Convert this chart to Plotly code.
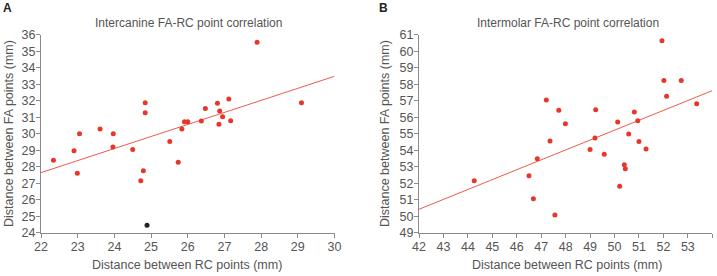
import plotly.graph_objects as go

# Panel A: intercanine
a_x = [22.34, 22.90, 22.99, 23.05, 23.61, 23.96, 23.97, 24.50, 24.72, 24.79, 24.84, 24.84,
       25.51, 25.74, 25.84, 25.91, 26.00, 26.37, 26.48, 26.81, 26.85, 26.87, 26.95, 27.12,
       27.17, 27.89, 29.10]
a_y = [28.39, 28.97, 27.60, 30.00, 30.28, 29.19, 30.00, 29.05, 27.15, 27.76, 31.88, 31.27,
       29.52, 28.27, 30.28, 30.73, 30.73, 30.77, 31.52, 31.84, 30.57, 31.38, 31.03, 32.10,
       30.79, 35.54, 31.88]
a_out_x = [24.89]
a_out_y = [24.45]
a_fit_x = [22, 30]
a_fit_y = [27.64, 33.48]

# Panel B: intermolar
b_x = [44.26, 46.50, 46.68, 46.84, 47.21, 47.36, 47.56, 47.72, 47.99, 49.00, 49.20, 49.23,
       49.58, 50.13, 50.21, 50.40, 50.44, 50.58, 50.81, 50.95, 51.00, 51.29, 51.94, 52.02,
       52.13, 52.73, 53.36]
b_y = [52.15, 52.45, 51.06, 53.48, 57.04, 54.56, 50.07, 56.42, 55.61, 54.05, 54.74, 56.45,
       53.75, 55.71, 51.81, 53.12, 52.88, 54.98, 56.32, 55.79, 54.52, 54.07, 60.64, 58.23,
       57.27, 58.23, 56.82]
b_fit_x = [42, 54]
b_fit_y = [50.42, 57.61]

titles = ["Intercanine FA-RC point correlation", "Intermolar FA-RC point correlation"]
x_title = "Distance between RC points (mm)"
y_title = "Distance between FA points (mm)"
panel_labels = ["A", "B"]

W, H = 717, 276
RED = "#e8362b"
LINE = "#ee5a4c"
AX = "#8a8a8a"
TXT = "#555555"
FONT = "Liberation Sans, Arial, sans-serif"

fig = go.Figure()
fig.add_trace(go.Scatter(x=a_fit_x, y=a_fit_y, mode="lines", line=dict(color=LINE, width=1),
                         xaxis="x", yaxis="y", hoverinfo="skip"))
fig.add_trace(go.Scatter(x=a_x, y=a_y, mode="markers", marker=dict(color=RED, size=5),
                         xaxis="x", yaxis="y"))
fig.add_trace(go.Scatter(x=a_out_x, y=a_out_y, mode="markers", marker=dict(color="#222222", size=5),
                         xaxis="x", yaxis="y"))
fig.add_trace(go.Scatter(x=b_fit_x, y=b_fit_y, mode="lines", line=dict(color=LINE, width=1),
                         xaxis="x2", yaxis="y2", hoverinfo="skip"))
fig.add_trace(go.Scatter(x=b_x, y=b_y, mode="markers", marker=dict(color=RED, size=5),
                         xaxis="x2", yaxis="y2"))

ydom = [43.3 / H, 241.3 / H]
common = dict(showgrid=False, zeroline=False, showline=True, linecolor=AX, linewidth=1,
              ticks="outside", ticklen=4, tickcolor=AX, tickwidth=1, automargin=False,
              tickfont=dict(family=FONT, size=12.5, color=TXT), dtick=1)
xextra = dict(ticklabelstandoff=-2)
yextra = dict(ticklabelstandoff=-2)

fig.update_layout(
    width=W, height=H, margin=dict(l=0, r=0, t=0, b=0, autoexpand=False),
    paper_bgcolor="white", plot_bgcolor="white", showlegend=False,
    font=dict(family=FONT, color=TXT),
    xaxis=dict(domain=[41 / W, 334.5 / W], range=[22, 30], anchor="y", **common, **xextra),
    yaxis=dict(domain=ydom, range=[24, 36], anchor="x", **common, **yextra),
    xaxis2=dict(domain=[419 / W, 712.3 / W], range=[42, 54], anchor="y2", **common, **xextra),
    yaxis2=dict(domain=ydom, range=[49, 61], anchor="x2", **common, **yextra),
)

ann = []
for i, cx in enumerate([188, 568]):
    ann.append(dict(text=titles[i], x=cx / W, y=1 - 23 / H, xref="paper", yref="paper",
                    showarrow=False, font=dict(family=FONT, size=12, color=TXT),
                    xanchor="center", yanchor="middle"))
    ann.append(dict(text=x_title, x=(cx - 1) / W, y=1 - 265 / H, xref="paper", yref="paper",
                    showarrow=False, font=dict(family=FONT, size=12.5, color=TXT),
                    xanchor="center", yanchor="middle"))
    ann.append(dict(text=y_title, x=(9 if i == 0 else 385) / W, y=1 - 134 / H, xref="paper",
                    yref="paper", showarrow=False, textangle=-90,
                    font=dict(family=FONT, size=12.5, color=TXT),
                    xanchor="center", yanchor="middle"))
    ann.append(dict(text="<b>%s</b>" % panel_labels[i], x=(7 if i == 0 else 383) / W,
                    y=1 - 8 / H, xref="paper", yref="paper", showarrow=False,
                    font=dict(family=FONT, size=12, color="#222222"),
                    xanchor="center", yanchor="middle"))
fig.update_layout(annotations=ann)

fig.write_html("out.html")
